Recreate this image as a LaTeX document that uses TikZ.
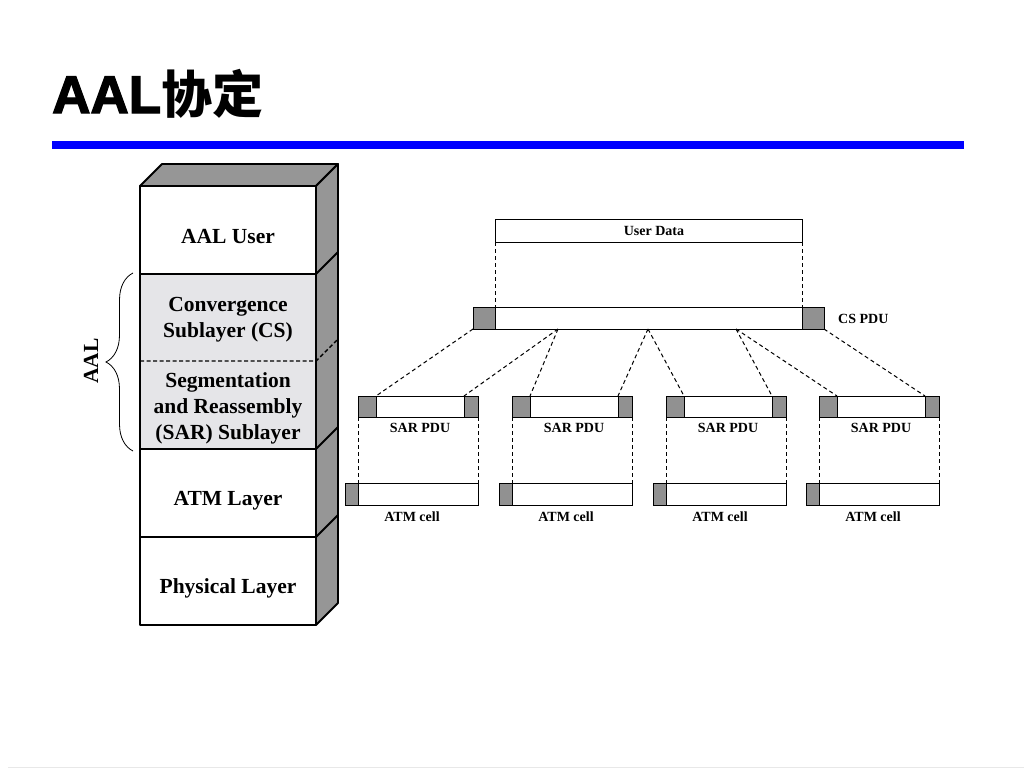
\documentclass[tikz,border=0pt]{standalone}
\usepackage{fontspec}
\setmainfont{Liberation Serif}
\newfontfamily\titlesans{Liberation Sans}[BoldFeatures={FakeBold=2.5}]
\newfontfamily\cjkfont{Noto Sans CJK SC}
\usetikzlibrary{decorations.pathreplacing}
\definecolor{titleblue}{RGB}{0,0,255}
\definecolor{sidegray}{RGB}{150,150,150}
\definecolor{sublight}{RGB}{229,229,232}
\definecolor{pdugray}{RGB}{145,145,145}
\definecolor{edgegray}{RGB}{232,232,232}
\begin{document}
\begin{tikzpicture}[x=1pt,y=-1pt,
 layertext/.style={font=\bfseries\fontsize{21.5}{26}\selectfont, align=center, inner sep=0},
 pdutext/.style={font=\bfseries\fontsize{14}{16}\selectfont, inner sep=0},
 stackline/.style={line width=1.8pt, line join=round},
 pdubox/.style={draw, line width=1pt, fill=white, inner sep=0, outer sep=0, minimum height=22},
 hdrbox/.style={draw, line width=1pt, fill=pdugray, inner sep=0, outer sep=0, minimum height=22},
 conn/.style={line width=1pt, dash pattern=on 4pt off 3pt}]
\useasboundingbox (0,0) rectangle (1024,768);

% title
\node[anchor=base west, inner sep=0] (title) at (52,113)
 {\titlesans\bfseries\fontsize{53}{60}\selectfont AAL\cjkfont\bfseries\fontsize{51}{60}\selectfont 协定};
\fill[titleblue] (52,141) rectangle (964,149);
\draw[edgegray, line width=1pt] (8,767) -- (1024,767);

% 3D stack
\filldraw[fill=sidegray, stackline] (140,186) -- (162,164) -- (338,164) -- (316,186) -- cycle;
\filldraw[fill=sidegray, stackline] (316,186) -- (338,164) -- (338,603) -- (316,625) -- cycle;
\filldraw[stackline, fill=white] (140,186) rectangle (316,274);
\filldraw[stackline, fill=sublight] (140,274) rectangle (316,449);
\filldraw[stackline, fill=white] (140,449) rectangle (316,537);
\filldraw[stackline, fill=white] (140,537) rectangle (316,625);
\draw[line width=1.4pt, dash pattern=on 4pt off 2.5pt] (140,361) -- (316,361) -- (338,339);
\draw[stackline] (316,274) -- (338,252);
\draw[stackline] (316,449) -- (338,427);
\draw[stackline] (316,537) -- (338,515);

\node[layertext] (aaluser) at (228,237) {AAL User};
\node[layertext] (cs) at (228,319.5) {Convergence\\Sublayer (CS)};
\node[layertext] (sar) at (228,408.5) {Segmentation\\and Reassembly\\(SAR) Sublayer};
\node[layertext] (atm) at (228,500.5) {ATM Layer};
\node[layertext] (phy) at (228,588.5) {Physical Layer};

\coordinate (bracebot) at (133,451);
\coordinate (bracetop) at (133,273);
\draw[line width=0.8pt, decorate, decoration={brace, amplitude=27pt, aspect=0.5}] (bracebot) -- (bracetop);
\node[layertext, rotate=90] (aallabel) at (91,361) {AAL};

% User data and CS PDU
\node[pdubox, minimum width=307, minimum height=23] (ud) at (648.5,230.5) {};
\node[pdutext] (udtext) at (654,230.5) {User Data};
\node[pdubox, minimum width=307] (cspay) at (648.5,318) {};
\node[hdrbox, minimum width=22, anchor=east] (cshdr) at (cspay.west) {};
\node[hdrbox, minimum width=22, anchor=west] (cstrl) at (cspay.east) {};
\node[pdutext, anchor=west] (cslabel) at (838,318.5) {CS PDU};
\draw[conn] (ud.south west) -- (cspay.north west);
\draw[conn] (ud.south east) -- (cspay.north east);

\coordinate (d1) at (558,329);
\coordinate (d2) at (648,329);
\coordinate (d3) at (736,329);

% SAR PDUs and ATM cells
\foreach \i/\L in {1/358,2/512,3/666,4/819}{
  \node[hdrbox, minimum width=18, minimum height=21, anchor=west] (sarhdr\i) at (\L,406.5) {};
  \node[pdubox, minimum width=88, minimum height=21, anchor=west] (sarpay\i) at (sarhdr\i.east) {};
  \node[hdrbox, minimum width=14, minimum height=21, anchor=west] (sartrl\i) at (sarpay\i.east) {};
  \node[pdutext] (sarlabel\i) at (\L+62,428) {SAR PDU};
  \node[pdubox, minimum width=120, anchor=west] (atmpay\i) at (\L,494) {};
  \node[hdrbox, minimum width=13, anchor=east] (atmhdr\i) at (atmpay\i.west) {};
  \node[pdutext] (atmlabel\i) at (\L+54,517) {ATM cell};
  \draw[conn] (sarhdr\i.south west) -- (atmpay\i.north west);
  \draw[conn] (sartrl\i.south east) -- (atmpay\i.north east);
}

\draw[conn] (cshdr.south west) -- (sarpay1.north west);
\draw[conn] (d1) -- (sartrl1.north west);
\draw[conn] (d1) -- (sarpay2.north west);
\draw[conn] (d2) -- (sartrl2.north west);
\draw[conn] (d2) -- (sarpay3.north west);
\draw[conn] (d3) -- (sartrl3.north west);
\draw[conn] (d3) -- (sarpay4.north west);
\draw[conn] (cstrl.south east) -- (sartrl4.north west);
\end{tikzpicture}
\end{document}
